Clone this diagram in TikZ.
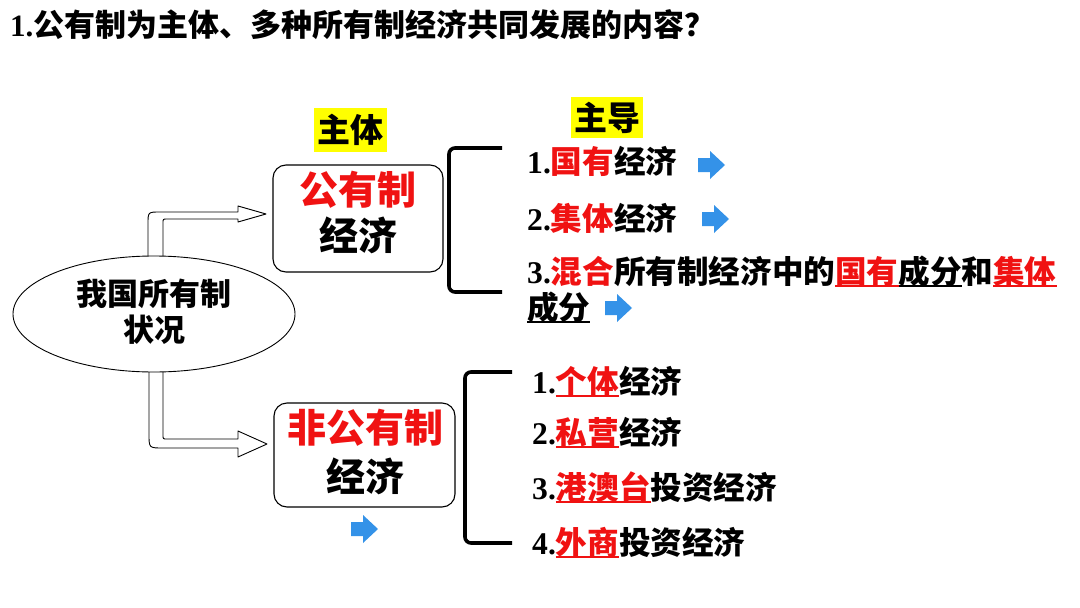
\documentclass[tikz,border=0pt]{standalone}
\usepackage{fontspec}
\setmainfont{Noto Sans CJK SC Black}
\newfontfamily\dg{Liberation Serif}
\usetikzlibrary{shapes.geometric}
\definecolor{myred}{RGB}{240,18,18}
\definecolor{myblue}{RGB}{52,146,232}
\definecolor{myyellow}{RGB}{255,255,0}
\newcommand\nm[1]{{\dg\bfseries #1}}
\newcommand\R[1]{{\color{myred}#1}}
\newcommand\rul[2]{\setbox0\hbox{#2}\rlap{\color{#1}\rule[-4pt]{\wd0}{1.8pt}}\box0}
\begin{document}
\begin{tikzpicture}[x=1pt,y=-1pt,
  txt/.style={inner sep=0, anchor=base west, font=\fontsize{31.6}{33}\selectfont},
  big/.style={inner sep=0, font=\fontsize{39}{41}\selectfont},
  mid/.style={inner sep=0, font=\fontsize{31}{33}\selectfont},
  tag/.style={fill=myyellow, inner sep=0, minimum height=44pt, font=\fontsize{33}{35}\selectfont},
  box/.style={draw, line width=1.1pt, rounded corners=13pt, inner sep=0},
  blk/.style={draw, line width=0.9pt, fill=white, line join=round},
  brk/.style={line width=3.6pt, rounded corners=6pt},
  barrow/.pic={\fill[myblue] (-14,-7) -- (-2,-7) -- (-2,-14) -- (13,0) -- (-2,14) -- (-2,7) -- (-14,7) -- cycle;}
]
\useasboundingbox (0,0) rectangle (1080,608);
\fill[white] (0,0) rectangle (1080,608);

% title
\node[inner sep=0, anchor=base west, font=\fontsize{31}{33}\selectfont] (title) at (10,36)
  {\nm{1.}公有制为主体、多种所有制经济共同发展的内容？};

% block arrows (drawn before the ellipse so it covers their ends)
\draw[blk] (148,264) -- (148,224) .. controls (148,212) .. (160,212) -- (238,212) -- (238,206)
  -- (266,214) -- (238,222) -- (238,219) -- (167,219) .. controls (163,219) .. (163,223) -- (163,264) -- cycle;
\draw[blk] (163,364) -- (163,435) .. controls (163,439) .. (167,439) -- (238,439) -- (238,431)
  -- (267,444) -- (238,457) -- (238,448) -- (163,448) .. controls (149,448) .. (149,434) -- (149,364) -- cycle;

% ellipse
\node[ellipse, draw, line width=0.9pt, fill=white, minimum width=282pt, minimum height=116pt, inner sep=0] (ell) at (154,314) {};
\node[mid] (ellA) at (154,294) {我国所有制};
\node[mid] (ellB) at (154,330) {状况};

% public ownership box
\node[tag, minimum width=73pt] (zt) at (350.5,129.5) {主体};
\node[box, minimum width=170pt, minimum height=107pt] (pub) at (358,218.5) {};
\node[big, text=myred] (pubA) at (358,190) {公有制};
\node[big] (pubB) at (358,235) {经济};

% non-public box
\node[box, minimum width=181pt, minimum height=104pt] (npub) at (364.5,455) {};
\node[big, text=myred] (npubA) at (365,428) {非公有制};
\node[big] (npubB) at (365,476) {经济};
\pic at (365,529) {barrow};

% upper bracket and items
\node[tag, minimum width=72pt, minimum height=41pt] (zd) at (607,117.5) {主导};
\draw[brk] (502,148) -- (449,148) -- (449,292) -- (502,292);
\node[txt] (u1) at (527,173) {\nm{1.}\R{国有}经济};
\node[txt] (u2) at (527,230) {\nm{2.}\R{集体}经济};
\node[txt] (u3) at (527,283) {\nm{3.}\R{混合}所有制经济中的\rul{myred}{\R{国有}}\rul{black}{成分}和\rul{myred}{\R{集体}}};
\node[txt] (u3b) at (527,319) {\rul{black}{成分}};
\pic at (712,165) {barrow};
\pic at (716,219) {barrow};
\pic at (619,308) {barrow};

% lower bracket and items
\draw[brk] (512,372) -- (465,372) -- (465,543) -- (512,543);
\node[txt] (d1) at (532,393) {\nm{1.}\rul{myred}{\R{个体}}经济};
\node[txt] (d2) at (532,444) {\nm{2.}\rul{myred}{\R{私营}}经济};
\node[txt] (d3) at (532,499) {\nm{3.}\rul{myred}{\R{港澳台}}投资经济};
\node[txt] (d4) at (532,554) {\nm{4.}\rul{myred}{\R{外商}}投资经济};
\end{tikzpicture}
\end{document}
